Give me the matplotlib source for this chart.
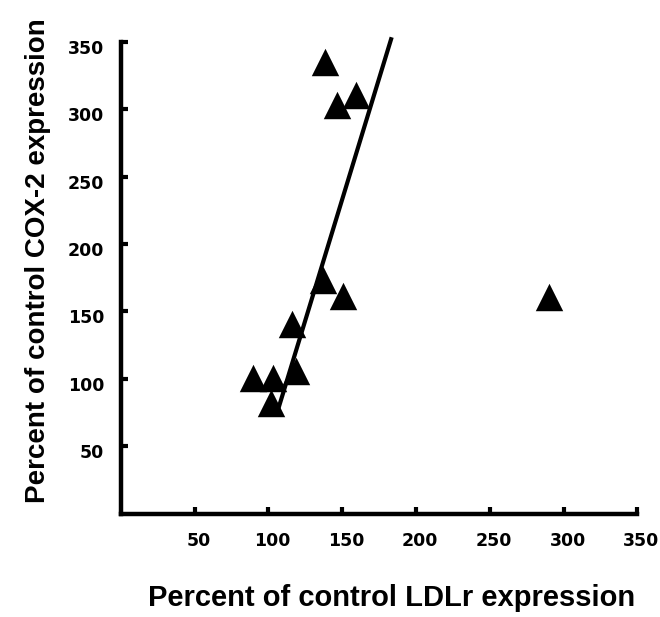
import matplotlib
matplotlib.use("Agg")
import matplotlib.pyplot as plt
import matplotlib.transforms as mtransforms

# LDLr (x) vs COX-2 (y), percent of control
ldlr = [138.6, 146.6, 159.5, 137.2, 150.7, 116.1, 118.5, 103.3, 89.2, 101.8, 290.0]
cox2 = [334.8, 302.7, 310.7, 173.2, 161.7, 140.7, 106.1, 100.9, 100.9, 82.1, 160.3]

# regression line end points
fit_x = [106.4, 183.5]
fit_y = [76.8, 353.3]

xticks = [50, 100, 150, 200, 250, 300, 350]
yticks = [50, 100, 150, 200, 250, 300, 350]

plt.rcParams["font.family"] = ["Liberation Sans", "DejaVu Sans"]
plt.rcParams["font.weight"] = "bold"

fig = plt.figure(figsize=(6.6, 6.17), dpi=100)
ax = fig.add_axes([0.1833, 0.1677, 0.7823, 0.7647])

ax.scatter(ldlr, cox2, marker="^", s=390, color="black", linewidths=0, zorder=3, clip_on=False)
ax.plot(fit_x, fit_y, color="black", lw=3, solid_capstyle="butt", clip_on=False, zorder=2)

ax.set_xlim(0, 350)
ax.set_ylim(0, 350)
ax.set_xticks(xticks)
ax.set_yticks(yticks)
ax.set_xticklabels([str(t) for t in xticks], fontsize=12.5, fontweight="bold", family="DejaVu Sans")
ax.set_yticklabels([str(t) for t in yticks], fontsize=12.5, fontweight="bold", family="DejaVu Sans")

for s in ["top", "right"]:
    ax.spines[s].set_visible(False)
for s in ["left", "bottom"]:
    ax.spines[s].set_linewidth(3.2)
    ax.spines[s].set_capstyle("projecting")

ax.tick_params(axis="both", direction="in", length=5, width=3)
ax.tick_params(axis="x", pad=13)
ax.tick_params(axis="y", pad=12)

# labels sit a little off the ticks, as in the original
for lbl in ax.get_xticklabels():
    lbl.set_transform(lbl.get_transform() + mtransforms.ScaledTranslation(4 / 100, 0, fig.dpi_scale_trans))
for lbl in ax.get_yticklabels():
    lbl.set_transform(lbl.get_transform() + mtransforms.ScaledTranslation(0, -5 / 100, fig.dpi_scale_trans))

fig.text(0.594, 0.031, "Percent of control LDLr expression", fontsize=21, fontweight="bold",
         ha="center", va="center")
fig.text(0.058, 0.577, "Percent of control COX-2 expression", fontsize=20, fontweight="bold",
         ha="center", va="center", rotation=90)

fig.savefig("out.png", dpi=100)
